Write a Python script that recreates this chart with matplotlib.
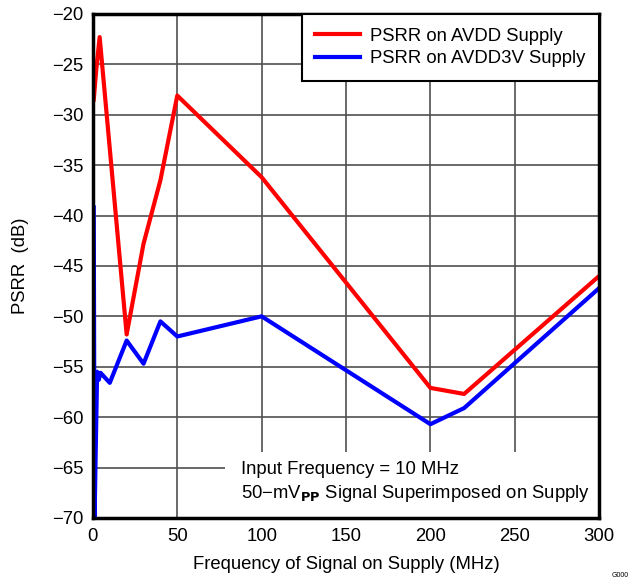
import numpy as np
import matplotlib
matplotlib.use('Agg')
import matplotlib.pyplot as plt
from matplotlib.patches import Rectangle

# PSRR vs supply signal frequency
avdd_freq = [0.5, 2, 4, 20, 30, 40, 50, 100, 200, 220, 300]
avdd_psrr = [-28.5, -25.5, -22.3, -51.8, -42.8, -36.5, -28.1, -36.2, -57.1, -57.7, -46.0]

avdd3v_freq = [0.5, 1, 1.5, 2.5, 3.5, 4.5, 10, 20, 30, 40, 50, 100, 200, 220, 300]
avdd3v_psrr = [-39.2, -70.0, -65.0, -55.5, -56.3, -55.6, -56.6, -52.4, -54.7, -50.5, -52.0, -50.0, -60.7, -59.1, -47.2]

xticks = [0, 50, 100, 150, 200, 250, 300]
yticks = [-70, -65, -60, -55, -50, -45, -40, -35, -30, -25, -20]

plt.rcParams['font.family'] = ['Liberation Sans', 'DejaVu Sans']
plt.rcParams['axes.unicode_minus'] = True

fs = 13.3

fig = plt.figure(figsize=(6.32, 5.8), dpi=100)
ax = fig.add_axes([0.147, 0.107, 0.801, 0.869])

ax.plot(avdd_freq, avdd_psrr, color='#ff0000', lw=3, label='PSRR on AVDD Supply', zorder=3)
ax.plot(avdd3v_freq, avdd3v_psrr, color='#0000ff', lw=3, label='PSRR on AVDD3V Supply', zorder=3)

ax.set_xlim(0, 300)
ax.set_ylim(-70, -20)
ax.set_xticks(xticks)
ax.set_yticks(yticks)
ax.tick_params(length=0, labelsize=fs, pad=7)
ax.grid(True, color='#505050', lw=1.2, zorder=1)
for s in ax.spines.values():
    s.set_linewidth(2.5)
    s.set_zorder(5)

ax.set_xlabel('Frequency of Signal on Supply (MHz)', fontsize=fs, labelpad=8)
ax.set_ylabel('PSRR  (dB)', fontsize=fs, labelpad=16)

# white note box covering the grid at bottom right
ax.add_patch(Rectangle((78, -70), 222, 6.5, facecolor='white', edgecolor='none', zorder=2))
ax.text(88, -65.2, 'Input Frequency = 10 MHz', fontsize=fs, va='center', zorder=4)
ax.text(88, -67.6, '50\u2212mV$_{\\mathbf{PP}}$ Signal Superimposed on Supply', fontsize=fs, va='center', zorder=4)

leg = ax.legend(loc='upper right', fontsize=fs, fancybox=False, framealpha=1,
                edgecolor='black', borderaxespad=0, handlelength=2.4,
                borderpad=0.75, labelspacing=0.3, handletextpad=0.55)
leg.get_frame().set_linewidth(1.5)
leg.set_zorder(6)

fig.text(0.995, 0.002, 'G000', fontsize=5, ha='right', va='bottom')

fig.savefig('out.png', dpi=100)
